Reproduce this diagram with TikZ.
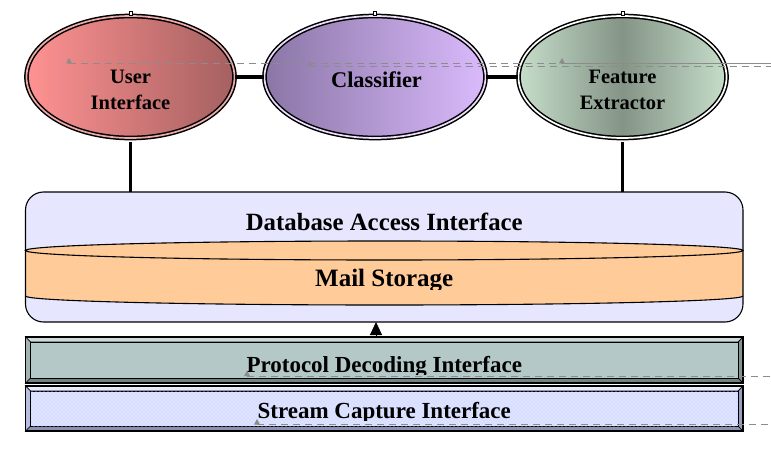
\documentclass[tikz,border=0pt]{standalone}
\usepackage{fontspec}
\setmainfont{Liberation Serif}
\usetikzlibrary{shapes.geometric, arrows.meta, patterns}

% sparse staggered dots for the capture layer
\pgfdeclarepatternformonly{softdots}{\pgfqpoint{-1pt}{-1pt}}{\pgfqpoint{5pt}{5pt}}{\pgfqpoint{4pt}{4pt}}{%
  \pgfpathcircle{\pgfqpoint{0pt}{0pt}}{0.65pt}%
  \pgfpathcircle{\pgfqpoint{2pt}{2pt}}{0.65pt}%
  \pgfusepath{fill}}

\definecolor{uiL}{RGB}{255,146,146}
\definecolor{uiR}{RGB}{165,96,96}
\definecolor{uiGap}{RGB}{236,170,170}
\definecolor{clL}{RGB}{138,118,166}
\definecolor{clR}{RGB}{218,186,252}
\definecolor{clGap}{RGB}{236,222,250}
\definecolor{feE}{RGB}{198,222,202}
\definecolor{feM}{RGB}{132,148,134}
\definecolor{dbFill}{RGB}{230,230,255}
\definecolor{cylFill}{RGB}{255,204,153}
\definecolor{guide}{RGB}{140,140,140}
% protocol decoding bar
\definecolor{pdFace}{RGB}{180,200,200}
\definecolor{pdTop}{RGB}{204,218,218}
\definecolor{pdLeft}{RGB}{160,180,180}
\definecolor{pdBot}{RGB}{110,132,132}
\definecolor{pdRight}{RGB}{128,148,148}
% stream capture bar
\definecolor{scFace}{RGB}{214,220,255}
\definecolor{scTop}{RGB}{232,236,255}
\definecolor{scLeft}{RGB}{184,192,224}
\definecolor{scBot}{RGB}{138,146,180}
\definecolor{scRight}{RGB}{152,160,192}

% light edges, darker centre
\pgfdeclarehorizontalshading{feShade}{100bp}{color(0bp)=(feE); color(25bp)=(feE); color(50bp)=(feM); color(75bp)=(feE); color(100bp)=(feE)}

% beveled bar: left, top, right, bottom, colour prefix
\newcommand\bevelbar[5]{%
  \filldraw[bevel, fill=#5Top]   (#1,#2) -- (#3,#2) -- (#3-5,#2+5) -- (#1+5,#2+5) -- cycle;
  \filldraw[bevel, fill=#5Bot]   (#1,#4) -- (#3,#4) -- (#3-5,#4-5) -- (#1+5,#4-5) -- cycle;
  \filldraw[bevel, fill=#5Left]  (#1,#2) -- (#1+5,#2+5) -- (#1+5,#4-5) -- (#1,#4) -- cycle;
  \filldraw[bevel, fill=#5Right] (#3,#2) -- (#3-5,#2+5) -- (#3-5,#4-5) -- (#3,#4) -- cycle;
  \filldraw[bevel, fill=#5Face]  (#1+5,#2+5) rectangle (#3-5,#4-5);
  \draw[line width=1.1pt] (#1,#2) rectangle (#3,#4);}

% small grey pointer sitting on a guide line
\newcommand\pointer[2]{\fill[guide] (#1-3,#2) -- (#1,#2-5.5) -- (#1+3,#2) -- cycle;}

\begin{document}
\begin{tikzpicture}[x=1pt,y=-1pt,
  oval/.style={ellipse, draw=black, line width=1.5pt, double distance=1.7pt,
    minimum height=122pt, inner sep=0pt},
  lbl/.style={font=\bfseries\fontsize{20.5}{24}\selectfont, anchor=base, inner sep=0pt},
  bigl/.style={font=\bfseries\fontsize{24.8}{28}\selectfont, anchor=base, inner sep=0pt},
  barl/.style={font=\bfseries\fontsize{23}{26}\selectfont, anchor=base, inner sep=0pt},
  link/.style={line width=3.2pt},
  guideline/.style={draw=guide, line width=1pt, dash pattern=on 7pt off 5pt},
  bevel/.style={draw=black, line width=0.7pt},
  handle/.style={draw=black, fill=white, line width=0.6pt},
  frame/.style={line width=1.1pt}]

\useasboundingbox (0,0) rectangle (771,452);

% ---- components ----
\node[oval, minimum width=208pt, left color=uiL, right color=uiR, double=uiGap] (ui) at (130.5,77) {};
\node[oval, minimum width=221pt, left color=clL, right color=clR, double=clGap] (cls) at (375,77) {};
\node[oval, minimum width=208pt, shading=feShade, shading angle=0, double=white] (fe) at (622.5,77) {};

\foreach \n in {ui,cls,fe}
  \draw[handle] (\n.north) ++(-1.6,-3.5) rectangle ++(3.2,4);

\node[lbl] (uiA) at (130.5,84) {User};
\node[lbl] (uiB) at (130.5,109) {Interface};
\node[lbl, font=\bfseries\fontsize{22.4}{26}\selectfont] (clsA) at (376.5,87.5) {Classifier};
\node[lbl] (feA) at (622.5,84) {Feature};
\node[lbl] (feB) at (622.5,109) {Extractor};

\draw[link] (ui.east) -- (cls.west);
\draw[link] (cls.east) -- (fe.west);

% ---- database access layer ----
\node[fill=dbFill, rounded corners=18pt, minimum width=717.5pt, minimum height=130pt,
  inner sep=0pt, outer sep=0pt] (db) at (384.25,257) {};

% mail storage cylinder
\fill[cylFill] (25.5,250.5) rectangle (743,296);
\fill[cylFill] (384.25,296) ellipse[x radius=358.75, y radius=9];
\fill[cylFill] (384.25,250.5) ellipse[x radius=358.75, y radius=9.5];
\draw[frame] (384.25,250.5) ellipse[x radius=358.75, y radius=9.5];
\draw[frame] (25.5,296) arc[start angle=180, end angle=0, x radius=358.75, y radius=9];

\draw[frame, rounded corners=18pt] (db.north west) rectangle (db.south east);

\node[bigl] (dbTitle) at (384.25,230) {Database Access Interface};
\begin{scope}
  \clip (0,0) rectangle (771,289);
  \node[bigl, font=\bfseries\fontsize{25}{28}\selectfont] (mail) at (384.25,286.5) {Mail Storage};
\end{scope}

\draw[link] ([yshift=-3pt]ui.south) -- (ui.south |- db.north);
\draw[link] ([yshift=-3pt]fe.south) -- (fe.south |- db.north);

% ---- lower layers ----
\bevelbar{25.5}{337}{743}{383}{pd}
\bevelbar{25.5}{386}{743}{431}{sc}
\fill[white, pattern=softdots, pattern color=white] (31,391) rectangle (737,426);

\node[inner sep=0pt, outer sep=0pt, minimum width=717.5pt, minimum height=46pt] (pd) at (384.25,360) {};
\node[inner sep=0pt, outer sep=0pt, minimum width=717.5pt, minimum height=45pt] (sc) at (384.25,408.5) {};

\begin{scope}
  \clip (0,0) rectangle (771,374);
  \node[barl] (pdText) at (384.25,372) {Protocol Decoding Interface};
\end{scope}
\begin{scope}
  \clip (0,380) rectangle (771,420.5);
  \node[barl] (scText) at (384.25,418.5) {Stream Capture Interface};
\end{scope}

\coordinate (lift) at (376,337);
\draw[line width=1pt, -{Triangle[length=13pt,width=12pt]}] (lift) -- (lift |- db.south);

% ---- guide lines ----
\coordinate (gA) at (69,63.5);   \coordinate (gAe) at (771,63.5);
\coordinate (gB) at (310,66.5);  \coordinate (gBe) at (771,66.5);
\coordinate (gC) at (562,63.5);  \coordinate (gCe) at (771,63.5);
\coordinate (gD) at (247,376);   \coordinate (gDe) at (771,376);
\coordinate (gE) at (257,424.5); \coordinate (gEe) at (771,424.5);
\draw[guideline] (gA) -- (gAe);
\draw[guideline] (gB) -- (gBe);
\draw[guideline, dash phase=6pt] (gC) -- (gCe);
\draw[guideline] (gD) -- (gDe);
\draw[guideline] (gE) -- (gEe);
\pointer{69}{63.5}
\pointer{310}{66.5}
\pointer{562}{63.5}
\pointer{247}{376}
\pointer{257}{424.5}

\end{tikzpicture}
\end{document}
